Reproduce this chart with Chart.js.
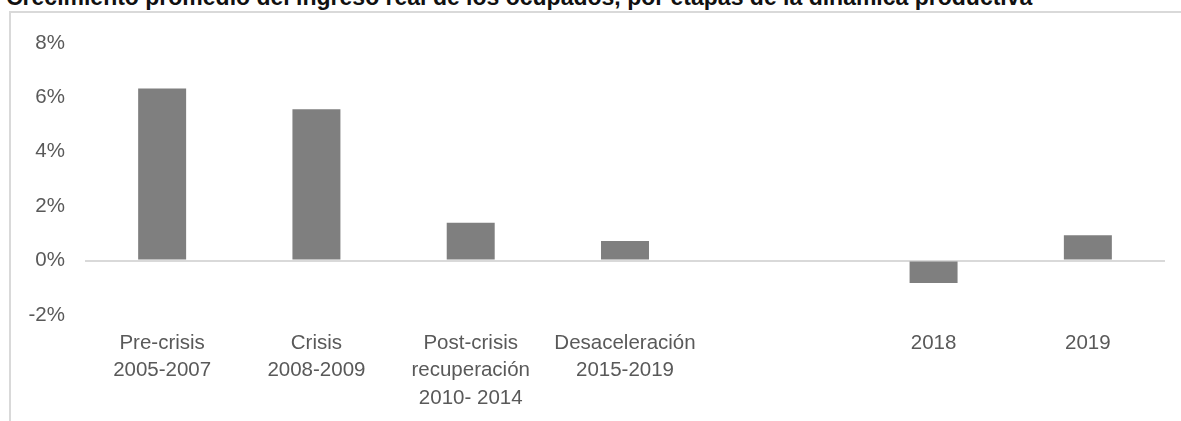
<!DOCTYPE html>
<html>
<head>
<meta charset="utf-8">
<script src="https://cdn.jsdelivr.net/npm/chart.js@4.4.1/dist/chart.umd.min.js"></script>
<style>
  html, body { margin: 0; padding: 0; background: #ffffff; overflow: hidden; }
  #wrap { position: relative; width: 1181px; height: 421px; overflow: hidden; }
  #frame { position: absolute; left: 9px; top: 11px; width: 1200px; height: 500px;
           border-left: 2px solid #d9d9d9; border-top: 2px solid #d9d9d9; }
  #title { position: absolute; left: 6px; white-space: nowrap; color: #111111;
           font-family: "Liberation Sans", Arial, sans-serif; font-weight: bold; }
  #c { position: absolute; left: 0; top: 0; }
</style>
</head>
<body>
<div id="wrap">
  <div id="frame"></div>
  <div id="title">Crecimiento promedio del ingreso real de los ocupados, por etapas de la dinámica productiva</div>
  <canvas id="c" width="1181" height="421"></canvas>
</div>
<script>
const categories = [
  ["Pre-crisis", "2005-2007"],
  ["Crisis", "2008-2009"],
  ["Post-crisis", "recuperación", "2010- 2014"],
  ["Desaceleración", "2015-2019"],
  "",
  "2018",
  "2019"
];
const values = [6.33, 5.56, 1.39, 0.72, null, -0.82, 0.93];
const yTicks = [-2, 0, 2, 4, 6, 8];

// Title: fit to measured width, baseline near the top edge (cut off like the reference)
(function () {
  const t = document.getElementById('title');
  const cv = document.createElement('canvas').getContext('2d');
  cv.font = 'bold 100px "Liberation Sans", Arial, sans-serif';
  const w = cv.measureText(t.textContent).width;
  const fs = 100 * 1027 / w;
  t.style.fontSize = fs + 'px';
  t.style.lineHeight = fs + 'px';
  const baseline = fs * (1 - 1.117) / 2 + 0.905 * fs;
  t.style.top = (5.5 - baseline) + 'px';
})();

const FONT = { family: '"Liberation Sans", Arial, sans-serif', size: 20.5, lineHeight: 1.356 };

new Chart(document.getElementById('c'), {
  type: 'bar',
  data: {
    labels: categories,
    datasets: [{
      data: values,
      backgroundColor: '#7f7f7f',
      borderWidth: 0,
      barPercentage: 0.311,
      categoryPercentage: 1.0
    }]
  },
  options: {
    responsive: false,
    animation: false,
    devicePixelRatio: 1,
    layout: { padding: { left: 0, right: 16, top: 43, bottom: 0 } },
    plugins: { legend: { display: false }, title: { display: false }, tooltip: { enabled: false } },
    scales: {
      x: {
        grid: { display: false, drawTicks: false },
        border: { display: false },
        ticks: { color: '#595959', font: FONT, padding: 14, maxRotation: 0, autoSkip: false },
        afterFit: (s) => { s.height = 106; }
      },
      y: {
        min: -2, max: 8,
        afterBuildTicks: (s) => { s.ticks = yTicks.map(v => ({ value: v })); },
        grid: {
          drawTicks: false,
          color: (ctx) => (ctx.tick && ctx.tick.value === 0) ? '#d9d9d9' : 'rgba(0,0,0,0)',
          lineWidth: 2
        },
        border: { display: false },
        ticks: { color: '#595959', font: FONT, padding: 20, callback: (v) => v + '%' },
        afterFit: (s) => { s.width = 85; }
      }
    }
  }
});
</script>
</body>
</html>
